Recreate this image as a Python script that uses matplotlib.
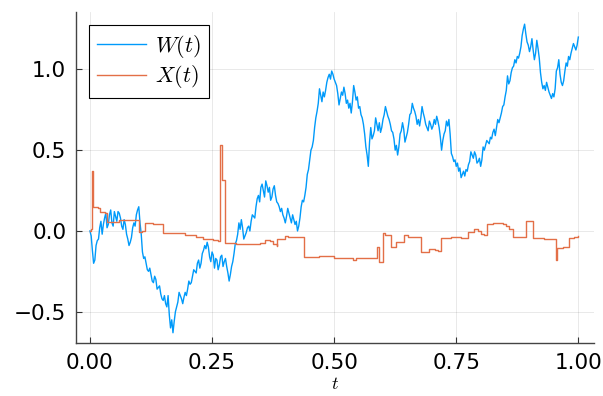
import numpy as np
import matplotlib
matplotlib.use("Agg")
import matplotlib.pyplot as plt

plt.rcParams["mathtext.fontset"] = "cm"

# Brownian path W(t): values on the 0.005 grid ...
w_grid = [
    0.00, -0.12, -0.18, -0.06, 0.02, -0.02, 0.08, 0.02, 0.10, 0.05,
    0.12, 0.06, 0.11, 0.03, 0.07, -0.02, -0.09, -0.04, 0.05, 0.10,
    0.15, -0.02, -0.17, -0.20, -0.25, -0.27, -0.32, -0.30, -0.35, -0.39,
    -0.43, -0.45, -0.40, -0.60, -0.63, -0.50, -0.44, -0.40, -0.45, -0.38,
    -0.36, -0.33, -0.28, -0.25, -0.20, -0.23, -0.14, -0.09, -0.07, -0.16,
    -0.13, -0.23, -0.18, -0.21, -0.15, -0.19, -0.22, -0.31, -0.22, -0.14,
    -0.06, 0.05, 0.07, -0.05, -0.01, 0.03, 0.06, 0.09, 0.15, 0.22,
    0.27, 0.25, 0.31, 0.24, 0.19, 0.26, 0.22, 0.17, 0.12, 0.10,
    0.05, 0.14, 0.08, 0.10, 0.04, 0.00, 0.08, 0.19, 0.22, 0.35,
    0.44, 0.52, 0.64, 0.74, 0.88, 0.80, 0.83, 0.92, 0.97, 0.99,
    0.94, 0.90, 0.78, 0.86, 0.89, 0.79, 0.76, 0.73, 0.90, 0.81,
    0.76, 0.72, 0.66, 0.52, 0.40, 0.64, 0.59, 0.70, 0.62, 0.61,
    0.69, 0.77, 0.71, 0.66, 0.61, 0.50, 0.47, 0.60, 0.67, 0.55,
    0.61, 0.72, 0.79, 0.74, 0.66, 0.65, 0.77, 0.70, 0.64, 0.68,
    0.63, 0.69, 0.71, 0.64, 0.50, 0.60, 0.68, 0.69, 0.48, 0.43,
    0.40, 0.37, 0.33, 0.37, 0.38, 0.41, 0.49, 0.45, 0.47, 0.43,
    0.40, 0.52, 0.53, 0.55, 0.58, 0.61, 0.59, 0.69, 0.70, 0.77,
    0.83, 0.96, 0.93, 1.01, 1.06, 1.08, 1.10, 1.21, 1.28, 1.17,
    1.11, 1.19, 1.06, 1.18, 1.07, 0.92, 0.90, 0.92, 0.86, 0.82,
    0.83, 0.99, 1.06, 0.92, 0.93, 1.04, 1.08, 1.10, 1.16, 1.12,
    1.20,
]
# ... and the samples halfway between them
w_half = [
    -0.03, -0.20, -0.09, -0.05, 0.06, 0.04, 0.11, 0.04, 0.13, 0.03,
    0.09, 0.12, 0.08, 0.01, 0.04, -0.05, -0.07, 0.02, 0.03, 0.13,
    0.05, -0.13, -0.16, -0.24, -0.23, -0.31, -0.28, -0.36, -0.34, -0.42,
    -0.40, -0.47, -0.52, -0.55, -0.56, -0.47, -0.38, -0.42, -0.41, -0.40,
    -0.31, -0.32, -0.24, -0.26, -0.18, -0.20, -0.12, -0.11, -0.10, -0.19,
    -0.15, -0.17, -0.24, -0.16, -0.22, -0.17, -0.26, -0.27, -0.19, -0.08,
    -0.02, 0.01, 0.02, -0.03, 0.02, 0.00, 0.10, 0.08, 0.20, 0.18,
    0.29, 0.21, 0.28, 0.27, 0.21, 0.28, 0.18, 0.15, 0.14, 0.08,
    0.09, 0.11, 0.05, 0.07, 0.06, 0.03, 0.15, 0.18, 0.27, 0.38,
    0.50, 0.56, 0.70, 0.79, 0.84, 0.86, 0.87, 0.95, 0.94, 0.97,
    0.92, 0.85, 0.82, 0.84, 0.85, 0.81, 0.79, 0.80, 0.86, 0.83,
    0.77, 0.70, 0.60, 0.47, 0.55, 0.57, 0.62, 0.66, 0.67, 0.64,
    0.72, 0.74, 0.69, 0.62, 0.57, 0.53, 0.52, 0.62, 0.63, 0.58,
    0.66, 0.73, 0.76, 0.71, 0.69, 0.70, 0.73, 0.66, 0.62, 0.66,
    0.65, 0.66, 0.68, 0.58, 0.56, 0.62, 0.65, 0.60, 0.46, 0.44,
    0.42, 0.39, 0.35, 0.34, 0.37, 0.43, 0.47, 0.49, 0.42, 0.45,
    0.44, 0.50, 0.56, 0.54, 0.57, 0.63, 0.64, 0.67, 0.73, 0.78,
    0.87, 0.91, 0.98, 1.02, 1.04, 1.07, 1.14, 1.25, 1.22, 1.15,
    1.14, 1.12, 1.10, 1.13, 0.98, 0.88, 0.87, 0.89, 0.84, 0.85,
    0.88, 1.01, 0.97, 0.90, 0.99, 1.02, 1.06, 1.13, 1.14, 1.15,
]

# jump process X(t): jump times and the level held after each one
t_x = [
    0.000, 0.002, 0.0048, 0.0068, 0.017, 0.0204, 0.030, 0.0355, 0.060, 0.080,
    0.1002, 0.1057, 0.1125, 0.130, 0.150, 0.170, 0.194, 0.218, 0.232, 0.252,
    0.262, 0.266, 0.2706, 0.276, 0.300, 0.348, 0.358, 0.368, 0.375, 0.382,
    0.383, 0.399, 0.405, 0.438, 0.470, 0.500, 0.532, 0.538, 0.545, 0.559,
    0.588, 0.592, 0.601, 0.605, 0.617, 0.627, 0.643, 0.651, 0.678, 0.695,
    0.706, 0.713, 0.719, 0.740, 0.753, 0.760, 0.774, 0.787, 0.794, 0.801,
    0.806, 0.813, 0.825, 0.845, 0.852, 0.859, 0.866, 0.893, 0.907, 0.930,
    0.954, 0.956, 0.968, 0.980, 0.992, 1.000,
]
x_vals = [
    0.0, 0.01, 0.37, 0.15, 0.14, 0.12, 0.11, 0.055, 0.065, 0.07,
    -0.004, 0.0, 0.05, 0.045, -0.01, -0.015, -0.025, -0.04, -0.047, -0.055,
    -0.06, 0.535, 0.317, -0.077, -0.08, -0.075, -0.056, -0.065, -0.08, -0.09,
    -0.05, -0.03, -0.04, -0.16, -0.155, -0.165, -0.17, -0.18, -0.17, -0.165,
    -0.097, -0.19, -0.015, -0.025, -0.097, -0.07, -0.025, -0.035, -0.128, -0.11,
    -0.115, -0.125, -0.045, -0.04, -0.035, -0.045, -0.004, 0.01, 0.0, -0.02,
    -0.025, 0.043, 0.05, 0.045, 0.03, 0.01, -0.04, 0.064, -0.045, -0.05,
    -0.18, -0.105, -0.1, -0.045, -0.035, -0.03,
]

blue = "#009AFA"
orange = "#E36F47"

# merge the two sample sets onto one 0.0025 grid
t_w = np.linspace(0.0, 1.0, 2 * len(w_grid) - 1)
w_vals = np.empty(len(t_w))
w_vals[0::2] = w_grid
w_vals[1::2] = w_half

fig = plt.figure(figsize=(6.03, 3.96), dpi=100)
ax = fig.add_axes([0.126, 0.134, 0.859, 0.836])

ax.plot(t_w, w_vals, color=blue, lw=1.0, label=r"$W(t)$")
ax.step(t_x, x_vals, where="post", color=orange, lw=1.0, label=r"$X(t)$")

ax.set_xlim(-0.0286, 1.032)
ax.set_ylim(-0.693, 1.356)
ax.set_xticks([0.0, 0.25, 0.5, 0.75, 1.0])
ax.set_xticklabels(["0.00", "0.25", "0.50", "0.75", "1.00"])
ax.set_yticks([-0.5, 0.0, 0.5, 1.0])
ax.set_yticklabels(["\u22120.5", "0.0", "0.5", "1.0"])
ax.tick_params(direction="in", length=4, width=0.8, labelsize=15.5, pad=7,
               color="#333333")

ax.grid(True, color="black", alpha=0.1, lw=0.6)
for side in ("top", "right"):
    ax.spines[side].set_visible(False)
for side in ("left", "bottom"):
    ax.spines[side].set_color("#444444")
    ax.spines[side].set_linewidth(1.0)

ax.set_xlabel(r"$t$", fontsize=13, labelpad=2)

leg = ax.legend(loc="upper left", fontsize=16, fancybox=False, framealpha=1,
                edgecolor="black", handlelength=2.2, borderpad=0.35,
                labelspacing=0.15, handletextpad=0.4, borderaxespad=0.6)
leg.get_frame().set_linewidth(0.8)

fig.savefig("out.png", dpi=100)
